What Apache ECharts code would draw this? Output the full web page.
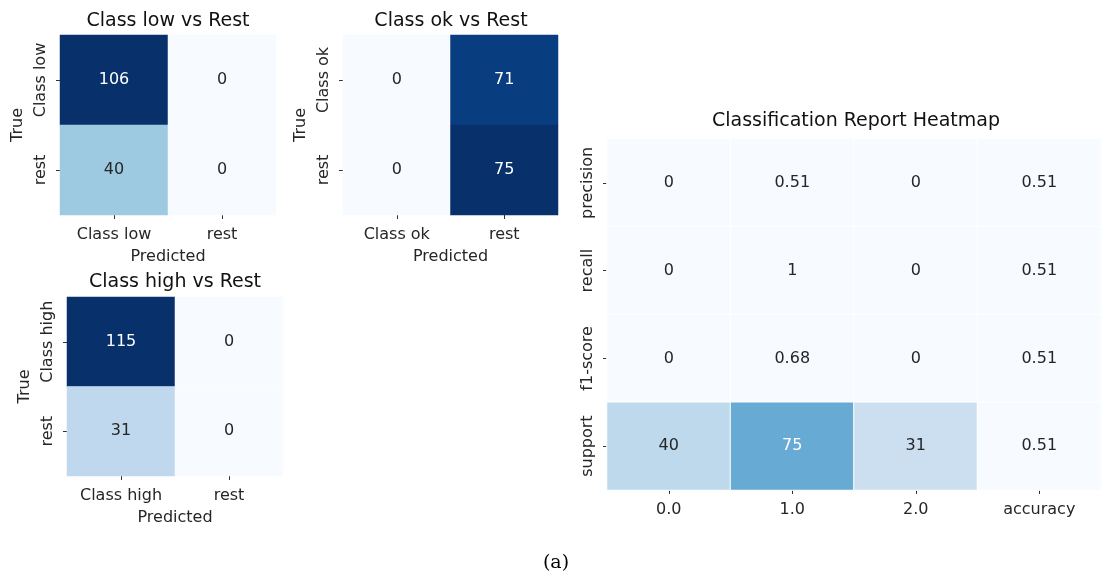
<!DOCTYPE html>
<html>
<head>
<meta charset="utf-8">
<script src="https://cdn.jsdelivr.net/npm/echarts@6/dist/echarts.min.js"></script>
<style>
html,body{margin:0;padding:0;background:#fff;}
#chart{width:1101px;height:573px;}
</style>
</head>
<body>
<div id="chart"></div>
<script>
// ---- data ----
const lowCats = ['Class low', 'rest'];
const lowValues = [[106, 0], [40, 0]];          // rows: true, cols: predicted
const okCats = ['Class ok', 'rest'];
const okValues = [[0, 71], [0, 75]];
const highCats = ['Class high', 'rest'];
const highValues = [[115, 0], [31, 0]];
const reportRows = ['precision', 'recall', 'f1-score', 'support'];
const reportCols = ['0.0', '1.0', '2.0', 'accuracy'];
const precision = [0, 0.51, 0, 0.51];
const recall = [0, 1, 0, 0.51];
const f1score = [0, 0.68, 0, 0.51];
const support = [40, 75, 31, 0.51];

const BLUES = ['#f7fbff','#deebf7','#c6dbef','#9ecae1','#6baed6','#4292c6','#2171b5','#08519c','#08306b'];
const FONT = 'DejaVu Sans';
const TXT = '#262626';
const FS = 16;
const TFS = 19;

function toCells(matrix, whiteAbove) {
  const out = [];
  matrix.forEach((row, r) => row.forEach((v, c) => {
    out.push({ value: [c, r, v], label: { color: v > whiteAbove ? '#ffffff' : '#262626' } });
  }));
  return out;
}

const grids = [
  { left: 60, top: 35, width: 216, height: 180 },
  { left: 343, top: 35, width: 215, height: 180 },
  { left: 67, top: 297, width: 216, height: 179 },
  { left: 607, top: 139, width: 496, height: 351 }
];

function xAx(i, cats, name) {
  return {
    type: 'category', gridIndex: i, data: cats, name: name || '',
    nameLocation: 'middle', nameGap: 34,
    nameTextStyle: { fontFamily: FONT, fontSize: FS, color: TXT },
    axisLine: { show: false },
    axisTick: { show: true, alignWithLabel: true, interval: 0, length: 4, lineStyle: { color: '#333' } },
    axisLabel: { fontFamily: FONT, fontSize: FS, color: TXT, margin: 12, interval: 0, hideOverlap: false },
    splitLine: { show: false }
  };
}
function yAx(i, cats, name) {
  return {
    type: 'category', gridIndex: i, data: cats, inverse: true, name: name || '',
    nameLocation: 'middle', nameGap: 34,
    nameTextStyle: { fontFamily: FONT, fontSize: FS, color: TXT },
    axisLine: { show: false },
    axisTick: { show: true, alignWithLabel: true, interval: 0, length: 4, lineStyle: { color: '#333' } },
    axisLabel: { fontFamily: FONT, fontSize: FS, color: TXT, rotate: 90, margin: 11, interval: 0, hideOverlap: false },
    splitLine: { show: false }
  };
}

const labelStyle = { show: true, fontFamily: FONT, fontSize: FS };
const titleStyle = { fontFamily: FONT, fontSize: TFS, fontWeight: 'normal', color: '#111' };

const reportMatrix = [precision, recall, f1score, support];

const option = {
  backgroundColor: '#fff',
  animation: false,
  title: [
    { text: 'Class low vs Rest', left: 168, top: 12, padding: 0, textAlign: 'center', textStyle: titleStyle },
    { text: 'Class ok vs Rest', left: 451, top: 12, padding: 0, textAlign: 'center', textStyle: titleStyle },
    { text: 'Class high vs Rest', left: 175, top: 273, padding: 0, textAlign: 'center', textStyle: titleStyle },
    { text: 'Classification Report Heatmap', left: 856, top: 112, padding: 0, textAlign: 'center', textStyle: titleStyle }
  ],
  grid: grids,
  xAxis: [xAx(0, lowCats, 'Predicted'), xAx(1, okCats, 'Predicted'), xAx(2, highCats, 'Predicted'), xAx(3, reportCols)],
  yAxis: [yAx(0, lowCats, 'True'), yAx(1, okCats, 'True'), yAx(2, highCats, 'True'), yAx(3, reportRows)],
  visualMap: [
    { type: 'continuous', show: false, seriesIndex: 0, min: 0, max: 106, inRange: { color: BLUES } },
    { type: 'continuous', show: false, seriesIndex: 1, min: 0, max: 75, inRange: { color: BLUES } },
    { type: 'continuous', show: false, seriesIndex: 2, min: 0, max: 115, inRange: { color: BLUES } },
    { type: 'piecewise', show: false, seriesIndex: 3, pieces: [
      { lt: 2, color: '#f7fbff' },
      { gte: 2, lt: 35, color: '#cbdff1' },
      { gte: 35, lt: 60, color: '#bed8ec' },
      { gte: 60, color: '#67abd4' }
    ] }
  ],
  series: [
    { type: 'heatmap', xAxisIndex: 0, yAxisIndex: 0, data: toCells(lowValues, 106 * 0.6), label: labelStyle },
    { type: 'heatmap', xAxisIndex: 1, yAxisIndex: 1, data: toCells(okValues, 75 * 0.6), label: labelStyle },
    { type: 'heatmap', xAxisIndex: 2, yAxisIndex: 2, data: toCells(highValues, 115 * 0.6), label: labelStyle },
    { type: 'heatmap', xAxisIndex: 3, yAxisIndex: 3, data: toCells(reportMatrix, 60), label: labelStyle,
      itemStyle: { borderColor: '#ffffff', borderWidth: 1 } }
  ],
  graphic: [
    { type: 'text', x: 556, y: 563, style: { text: '(a)', fontFamily: 'DejaVu Serif', fontSize: 19, fill: '#000', align: 'center', verticalAlign: 'middle' } }
  ]
};

const chart = echarts.init(document.getElementById('chart'), null, { renderer: 'canvas' });
chart.setOption(option);
</script>
</body>
</html>
